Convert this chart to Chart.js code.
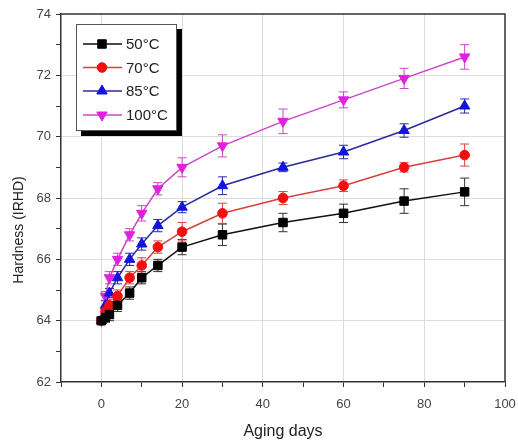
<!DOCTYPE html>
<html>
<head>
<meta charset="utf-8">
<script src="https://cdn.jsdelivr.net/npm/chart.js@4.4.0/dist/chart.umd.min.js"></script>
<style>
html,body{margin:0;padding:0;background:#fff;}
canvas{display:block;}
</style>
</head>
<body>
<canvas id="c" width="518" height="448"></canvas>
<script>
const days = [0, 1, 2, 4, 7, 10, 14, 20, 30, 45, 60, 75, 90];
const labels = ['50°C', '70°C', '85°C', '100°C'];
const h50  = [64.0, 64.1, 64.2, 64.5, 64.9, 65.4, 65.8, 66.4, 66.8, 67.2, 67.5, 67.9, 68.2];
const h70  = [64.0, 64.3, 64.5, 64.8, 65.4, 65.8, 66.4, 66.9, 67.5, 68.0, 68.4, 69.0, 69.4];
const h85  = [64.0, 64.5, 64.9, 65.4, 66.0, 66.5, 67.1, 67.7, 68.4, 69.0, 69.5, 70.2, 71.0];
const h100 = [64.0, 64.8, 65.4, 66.0, 66.8, 67.5, 68.3, 69.0, 69.7, 70.5, 71.2, 71.9, 72.6];
const e50  = [0.1, 0.15, 0.2, 0.2, 0.2, 0.2, 0.2, 0.25, 0.35, 0.3, 0.3, 0.4, 0.45];
const e70  = [0.1, 0.15, 0.2, 0.2, 0.2, 0.25, 0.2, 0.3, 0.33, 0.21, 0.19, 0.15, 0.36];
const e85  = [0.1, 0.15, 0.15, 0.2, 0.2, 0.2, 0.2, 0.18, 0.29, 0.14, 0.22, 0.22, 0.23];
const e100 = [0.1, 0.15, 0.2, 0.2, 0.2, 0.25, 0.2, 0.31, 0.36, 0.4, 0.26, 0.33, 0.4];
const xTitle = 'Aging days';
const yTitle = 'Hardness (IRHD)';

const values = [h50, h70, h85, h100];
const errors = [e50, e70, e85, e100];
const styles = [
  {line: '#111111', mark: '#000000', err: '#333333', shape: 'rect', r: 6, rot: 0},
  {line: '#d84040', mark: '#f01010', err: '#d84040', shape: 'circle', r: 4.8, rot: 0},
  {line: '#2a2a9c', mark: '#1414e0', err: '#2a2a9c', shape: 'triangle', r: 6, rot: 0},
  {line: '#c848c8', mark: '#e020e0', err: '#c848c8', shape: 'triangle', r: 6, rot: 180}
];

const datasets = values.map((vals, i) => ({
  label: labels[i],
  data: days.map((d, j) => ({x: d, y: vals[j]})),
  errs: errors[i],
  showLine: true,
  borderColor: styles[i].line,
  borderWidth: 1.5,
  pointStyle: styles[i].shape,
  pointRotation: styles[i].rot,
  pointRadius: styles[i].r,
  pointBackgroundColor: styles[i].mark,
  pointBorderColor: styles[i].mark,
  pointBorderWidth: 1,
  errColor: styles[i].err
}));

const errorBars = {
  id: 'errorBars',
  beforeDatasetsDraw(chart) {
    const ctx = chart.ctx;
    const ys = chart.scales.y;
    ctx.save();
    chart.data.datasets.forEach((ds, i) => {
      const meta = chart.getDatasetMeta(i);
      ctx.strokeStyle = ds.errColor;
      ctx.lineWidth = 1;
      meta.data.forEach((pt, j) => {
        const v = ds.data[j].y, e = ds.errs[j];
        const yt = ys.getPixelForValue(v + e);
        const yb = ys.getPixelForValue(v - e);
        const x = pt.x;
        ctx.beginPath();
        ctx.moveTo(x, yt); ctx.lineTo(x, yb);
        ctx.moveTo(x - 4.5, yt); ctx.lineTo(x + 4.5, yt);
        ctx.moveTo(x - 4.5, yb); ctx.lineTo(x + 4.5, yb);
        ctx.stroke();
      });
    });
    ctx.restore();
  },
  afterDraw(chart) {
    const ctx = chart.ctx;
    const a = chart.chartArea;
    ctx.save();
    ctx.strokeStyle = '#333';
    ctx.lineWidth = 1.5;
    ctx.beginPath();
    ctx.moveTo(a.left, a.top); ctx.lineTo(a.right, a.top); ctx.lineTo(a.right, a.bottom);
    ctx.stroke();
    ctx.fillStyle = '#222';
    ctx.font = '14px "Liberation Sans", Arial, sans-serif';
    ctx.textAlign = 'center';
    ctx.textBaseline = 'middle';
    ctx.translate(19, 230);
    ctx.rotate(-Math.PI / 2);
    ctx.fillText(yTitle, 0, 0);
    ctx.restore();

    ctx.save();
    const bx = 76, by = 24, bw = 100, bh = 106;
    ctx.fillStyle = '#000';
    ctx.fillRect(bx + 5, by + 5, bw + 1, bh + 1);
    ctx.fillStyle = '#fff';
    ctx.fillRect(bx, by, bw, bh);
    ctx.strokeStyle = '#555';
    ctx.lineWidth = 1;
    ctx.strokeRect(bx + 0.5, by + 0.5, bw, bh);
    const rows = [44, 67.5, 91, 115];
    chart.data.datasets.forEach((ds, i) => {
      const y = rows[i];
      ctx.strokeStyle = ds.borderColor;
      ctx.lineWidth = 1.5;
      ctx.beginPath();
      ctx.moveTo(83, y); ctx.lineTo(122, y);
      ctx.stroke();
      ctx.fillStyle = ds.pointBackgroundColor;
      ctx.strokeStyle = ds.pointBackgroundColor;
      ctx.lineWidth = 1;
      Chart.helpers.drawPoint(ctx, {pointStyle: ds.pointStyle, rotation: ds.pointRotation, radius: ds.pointRadius, borderWidth: 1}, 102, y);
      ctx.fillStyle = '#222';
      ctx.font = '15px "Liberation Sans", Arial, sans-serif';
      ctx.textAlign = 'left';
      ctx.textBaseline = 'middle';
      ctx.fillText(ds.label, 126, y + 1);
    });
    ctx.restore();
  }
};

new Chart(document.getElementById('c'), {
  type: 'scatter',
  data: {datasets},
  options: {
    responsive: false,
    animation: false,
    layout: {padding: {top: 14, right: 13, left: 0, bottom: 0}},
    plugins: {legend: {display: false}, tooltip: {enabled: false}},
    scales: {
      x: {
        type: 'linear',
        min: -10, max: 100,
        afterFit(s) { s.height = 66; s.paddingLeft = 0; s.paddingRight = 0; },
        afterBuildTicks(s) { const t = []; for (let v = -10; v <= 100; v += 10) t.push({value: v}); s.ticks = t; },
        ticks: {
          autoSkip: false, maxRotation: 0, padding: 10,
          color: '#444',
          font: {family: '"Liberation Sans", Arial, sans-serif', size: 13},
          callback: v => (v >= 0 && v % 20 === 0) ? String(v) : ''
        },
        grid: {
          drawTicks: true, tickLength: 5,
          color: c => (c.tick && c.tick.value >= 0 && c.tick.value < 100 && c.tick.value % 20 === 0) ? '#dcdcdc' : 'rgba(0,0,0,0)',
          tickColor: '#333',
          lineWidth: 1
        },
        border: {color: '#333', width: 1.5},
        title: {display: true, text: xTitle, color: '#222', font: {family: '"Liberation Sans", Arial, sans-serif', size: 16}, padding: {top: 0, bottom: 7}}
      },
      y: {
        type: 'linear',
        min: 62, max: 74,
        afterFit(s) { s.width = 61; s.paddingTop = 0; s.paddingBottom = 0; },
        afterBuildTicks(s) { const t = []; for (let v = 62; v <= 74; v += 1) t.push({value: v}); s.ticks = t; },
        ticks: {
          autoSkip: false, padding: 5,
          color: '#444',
          font: {family: '"Liberation Sans", Arial, sans-serif', size: 13},
          callback: v => (v % 2 === 0) ? String(v) : ''
        },
        grid: {
          drawTicks: true, tickLength: 5,
          color: c => (c.tick && c.tick.value > 62 && c.tick.value < 74 && c.tick.value % 2 === 0) ? '#dcdcdc' : 'rgba(0,0,0,0)',
          tickColor: '#333',
          lineWidth: 1
        },
        border: {color: '#333', width: 1.5}
      }
    }
  },
  plugins: [errorBars]
});
</script>
</body>
</html>
